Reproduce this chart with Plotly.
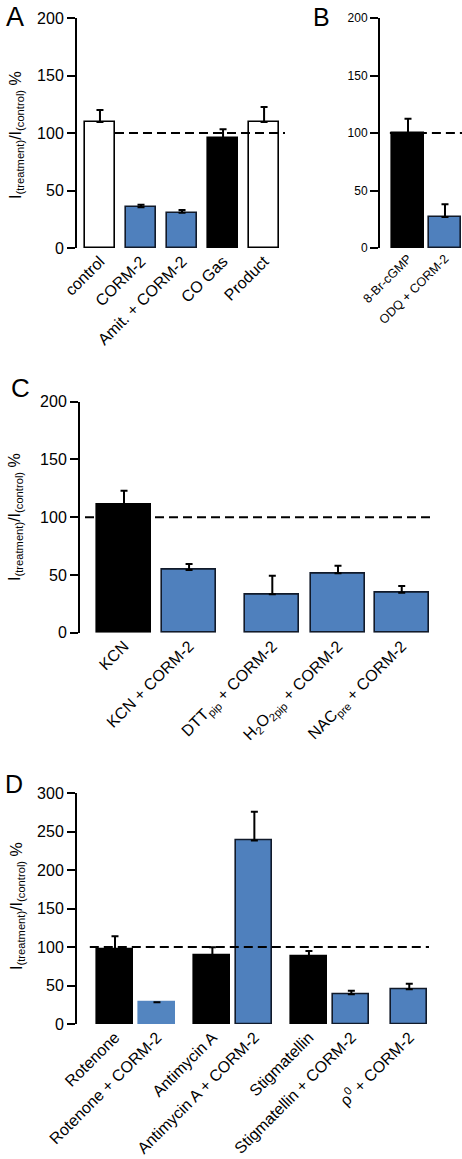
import plotly.graph_objects as go

# ---------------- data ----------------
a_labels = ["control", "CORM-2", "Amit. + CORM-2", "CO Gas", "Product"]
a_values = [109.6, 35.4, 30.7, 95.7, 109.6]
a_sem = [10.4, 2.3, 2.3, 7.5, 13.0]
a_kind = ["white", "blue", "blue", "black", "white"]

b_labels = ["8-Br-cGMP", "ODQ + CORM-2"]
b_values = [100.0, 27.0]
b_sem = [12.4, 11.0]
b_kind = ["black", "blue"]

c_labels = ["KCN", "KCN + CORM-2", "DTT<sub>pip</sub> + CORM-2",
            "H<sub>2</sub>O<sub>2pip</sub> + CORM-2", "NAC<sub>pre</sub> + CORM-2"]
c_values = [111.0, 54.3, 33.2, 51.4, 34.6]
c_sem = [12.0, 5.2, 16.2, 6.6, 5.8]
c_kind = ["black", "blue", "blue", "blue", "blue"]

d_labels = ["Rotenone", "Rotenone + CORM-2", "Antimycin A", "Antimycin A + CORM-2",
            "Stigmatellin", "Stigmatellin + CORM-2", "ρ<sup>0</sup> + CORM-2"]
d_values = [97.6, 28.2, 89.4, 238.5, 87.6, 38.6, 45.1]
d_sem = [16.4, None, 10.4, 37.5, 7.4, 4.8, 7.4]
d_kind = ["black", "plainblue", "black", "blue", "black", "blue", "blue"]

REF_LEVEL = 100

# ---------------- layout helpers ----------------
W, H = 462, 1159
FONT = "Liberation Sans, Arial, Helvetica, sans-serif"
BLUE = "#4f80bd"
EDGE = "#111a2a"

fill = {"white": "white", "blue": BLUE, "black": "black", "plainblue": "#5385c0"}
edge = {"white": "black", "blue": EDGE, "black": "black", "plainblue": "#5385c0"}


def px_x(p):
    return p / W


def px_y(p):
    return 1 - p / H


panels = [
    dict(v=a_values, s=a_sem, k=a_kind, lab=a_labels, pos=[0, 1, 2, 3, 4], w=0.73,
         xd=(77, 285), yd=(18, 248), xr=(-0.56, 4.51), ymax=200, tf=16, xf=16, ds=0.366),
    dict(v=b_values, s=b_sem, k=b_kind, lab=b_labels, pos=[0, 1], w=0.86,
         xd=(380, 462), yd=(18, 248), xr=(-0.757, 1.46), ymax=200, tf=12, xf=12.5, ds=-0.49),
    dict(v=c_values, s=c_sem, k=c_kind, lab=c_labels, pos=[0, 1, 2.28, 3.29, 4.27], w=0.83,
         xd=(80, 431), yd=(401.7, 632.7), xr=(-0.677, 4.72), ymax=200, tf=16, xf=16, ds=-0.6),
    dict(v=d_values, s=d_sem, k=d_kind, lab=d_labels, pos=[0, 1, 2.32, 3.32, 4.62, 5.63, 7.01], w=0.86,
         xd=(77, 429), yd=(793.3, 1024), xr=(-0.905, 7.48), ymax=300, tf=16, xf=16, ds=-0.6),
]

fig = go.Figure()
layout = dict(
    template="none",
    width=W, height=H, margin=dict(l=0, r=0, t=0, b=0, pad=0), autosize=False,
    paper_bgcolor="white", plot_bgcolor="white", showlegend=False,
    font=dict(family=FONT, color="black"),
    bargap=0,
)

for i, p in enumerate(panels, start=1):
    xa = "x" if i == 1 else f"x{i}"
    ya = "y" if i == 1 else f"y{i}"
    fig.add_trace(go.Bar(
        x=p["pos"], y=p["v"], width=p["w"], xaxis=xa, yaxis=ya,
        marker=dict(color=[fill[k] for k in p["k"]],
                    line=dict(color=[edge[k] for k in p["k"]], width=1.6)),
        error_y=dict(type="data", array=p["s"], arrayminus=[0] * len(p["s"]),
                     symmetric=False, color="black", thickness=2, width=3.5,
                     visible=True),
        hoverinfo="skip",
    ))
    fig.add_trace(go.Scatter(
        x=[p["ds"], p["xr"][1]], y=[REF_LEVEL, REF_LEVEL], mode="lines",
        xaxis=xa, yaxis=ya,
        line=dict(color="black", width=2, dash="9px,5px"), hoverinfo="skip",
    ))
    xkey = "xaxis" if i == 1 else f"xaxis{i}"
    ykey = "yaxis" if i == 1 else f"yaxis{i}"
    layout[xkey] = dict(
        domain=[px_x(p["xd"][0]), px_x(p["xd"][1])], range=list(p["xr"]), anchor=ya,
        tickmode="array", tickvals=p["pos"], ticktext=p["lab"], tickangle=-45, ticks="",
        showline=False, showgrid=False, zeroline=False, automargin=False,
        tickfont=dict(family=FONT, size=p["xf"], color="black"),
    )
    layout[ykey] = dict(
        domain=[px_y(p["yd"][1]), px_y(p["yd"][0])], range=[0, p["ymax"]], anchor=xa,
        tickmode="linear", tick0=0, dtick=50, ticks="outside", ticklen=8, tickwidth=2,
        tickcolor="black", showline=True, linecolor="black", linewidth=2,
        showgrid=False, zeroline=False, automargin=False,
        tickfont=dict(family=FONT, size=p["tf"], color="black"),
    )

title_text = "I<sub>(treatment)</sub>/I<sub>(control)</sub> %"
annotations = []
for (x, y, size) in [(17, 135, 16), (16, 517, 16), (17, 906, 16)]:
    annotations.append(dict(text=title_text, xref="paper", yref="paper",
                            x=px_x(x), y=px_y(y), textangle=-90, showarrow=False,
                            xanchor="center", yanchor="middle",
                            font=dict(family=FONT, size=size, color="black")))
for (t, x, y, size) in [("A", 15, 17, 27), ("B", 321, 17, 25), ("C", 20, 388, 26), ("D", 14, 784, 25)]:
    annotations.append(dict(text=t, xref="paper", yref="paper", x=px_x(x), y=px_y(y),
                            showarrow=False, xanchor="center", yanchor="middle",
                            font=dict(family=FONT, size=size, color="black")))
layout["annotations"] = annotations

fig.update_layout(**layout)
fig.write_html("out.html", config={"displayModeBar": False},
               post_script="document.body.style.margin='0';document.body.style.overflow='hidden';")
